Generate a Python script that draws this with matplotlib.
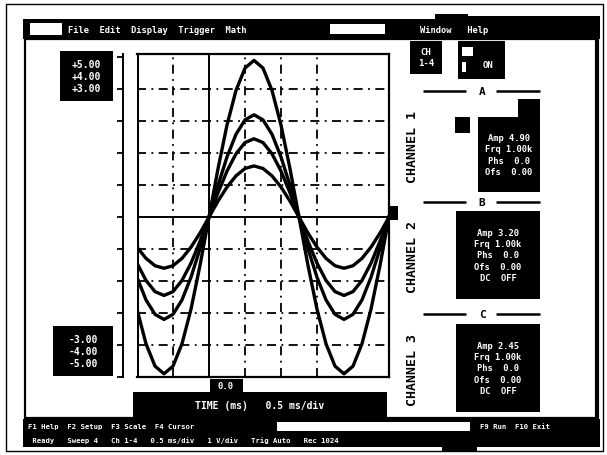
import matplotlib
matplotlib.use("Agg")
import matplotlib.pyplot as plt
from matplotlib.patches import Rectangle

# waveform samples, every quarter division
x_div = [i * 0.25 for i in range(29)]
ch1 = [-2.88, -3.96, -4.66, -4.9, -4.66, -3.96, -2.88, -1.51, 0, 1.51, 2.88, 3.96, 4.66, 4.9, 4.66,
       3.96, 2.88, 1.51, 0, -1.51, -2.88, -3.96, -4.66, -4.9, -4.66, -3.96, -2.88, -1.51, 0]
ch2 = [-1.88, -2.59, -3.04, -3.2, -3.04, -2.59, -1.88, -0.99, 0, 0.99, 1.88, 2.59, 3.04, 3.2, 3.04,
       2.59, 1.88, 0.99, 0, -0.99, -1.88, -2.59, -3.04, -3.2, -3.04, -2.59, -1.88, -0.99, 0]
ch3 = [-1.44, -1.98, -2.33, -2.45, -2.33, -1.98, -1.44, -0.76, 0, 0.76, 1.44, 1.98, 2.33, 2.45, 2.33,
       1.98, 1.44, 0.76, 0, -0.76, -1.44, -1.98, -2.33, -2.45, -2.33, -1.98, -1.44, -0.76, 0]
ch4 = [-0.94, -1.29, -1.52, -1.6, -1.52, -1.29, -0.94, -0.5, 0, 0.5, 0.94, 1.29, 1.52, 1.6, 1.52,
       1.29, 0.94, 0.5, 0, -0.5, -0.94, -1.29, -1.52, -1.6, -1.52, -1.29, -0.94, -0.5, 0]

grid_x = [1, 3, 4, 5]
grid_y = [-4, -3, -2, -1, 1, 2, 3, 4]
scale_ticks = [-5, -4, -3, -2, -1, 0, 1, 2, 3, 4, 5]
trigger_x = 2

top_labels = "+5.00\n+4.00\n+3.00"
bottom_labels = "-3.00\n-4.00\n-5.00"
menu_left = "File  Edit  Display  Trigger  Math"
menu_right = "Window   Help"
channel_names = ["CHANNEL 1", "CHANNEL 2", "CHANNEL 3"]
channel_info = [
    "Amp 4.90\nFrq 1.00k\nPhs  0.0\nOfs  0.00",
    "Amp 3.20\nFrq 1.00k\nPhs  0.0\nOfs  0.00\nDC  OFF",
    "Amp 2.45\nFrq 1.00k\nPhs  0.0\nOfs  0.00\nDC  OFF",
]
status_1 = "F1 Help  F2 Setup  F3 Scale  F4 Cursor"
status_1b = "F9 Run  F10 Exit"
status_2 = " Ready   Sweep 4   Ch 1-4   0.5 ms/div   1 V/div   Trig Auto   Rec 1024"

MONO = "DejaVu Sans Mono"

fig = plt.figure(figsize=(6.07, 4.56), dpi=100)

# screen chrome drawn in pixel coordinates
bg = fig.add_axes([0, 0, 1, 1], zorder=0)
bg.set_xlim(0, 607)
bg.set_ylim(456, 0)
bg.axis("off")


def box(x0, y0, x1, y1, fc="black", ec="none", lw=0):
    bg.add_patch(Rectangle((x0, y0), x1 - x0, y1 - y0, facecolor=fc, edgecolor=ec, linewidth=lw))


def hline(x0, x1, y, lw=1.8):
    bg.plot([x0, x1], [y, y], color="black", lw=lw, solid_capstyle="butt")


# outer frame and window
box(6, 5, 603, 452, fc="white", ec="black", lw=1.0)
box(25, 40, 597, 419, fc="white", ec="black", lw=1.6)
bg.plot([597, 597], [40, 419], color="black", lw=3)

# title / menu bar
box(23, 20, 600, 40)
box(435, 15, 468, 20)
box(468, 17, 600, 20)
box(30, 24, 62, 36, fc="white")
box(330, 25, 385, 35, fc="white")
bg.text(68, 30.5, menu_left, color="white", fontsize=6.3, family=MONO,
        fontweight="bold", va="center", ha="left")
bg.text(420, 30.5, menu_right, color="white", fontsize=6.3, family=MONO,
        fontweight="bold", va="center", ha="left")

# left scale label blocks
box(60, 52, 113, 102)
bg.text(86, 77, top_labels, color="white", fontsize=7, family=MONO, fontweight="bold",
        ha="center", va="center", linespacing=1.25)
box(53, 327, 113, 377)
bg.text(83, 352, bottom_labels, color="white", fontsize=7, family=MONO, fontweight="bold",
        ha="center", va="center", linespacing=1.25)

# right panel top boxes
box(410, 42, 442, 75)
bg.text(426, 58, "CH\n1-4", color="white", fontsize=6.5, family=MONO, fontweight="bold",
        ha="center", va="center")
box(458, 42, 505, 80)
box(462, 48, 473, 57, fc="white")
box(462, 63, 466, 73, fc="white")
bg.text(488, 65, "ON", color="white", fontsize=6.5, family=MONO, fontweight="bold",
        ha="center", va="center")

# channel sections: separator y, text column centre, block top, block bottom
sections = [(92, 147, 118, 193), (203, 257, 212, 300), (315, 370, 325, 413)]
for (sep_y, col_y, blk_top, blk_bot), name, info, tag in zip(sections, channel_names,
                                                             channel_info, "ABC"):
    hline(423, 466, sep_y)
    hline(496, 540, sep_y)
    bg.text(482, sep_y, tag, color="black", fontsize=8, family=MONO, fontweight="bold",
            ha="center", va="center")
    bg.text(413, col_y, name, color="black", fontsize=9.5, family=MONO,
            fontweight="bold", rotation=90, ha="center", va="center")
    x0 = 478 if tag == "A" else 456
    box(x0, blk_top, 540, blk_bot)
    bg.text((x0 + 540) / 2, (blk_top + blk_bot) / 2, info, color="white", fontsize=6.3,
            family=MONO, fontweight="bold", ha="center", va="center", linespacing=1.3)
box(518, 100, 540, 118)
box(455, 118, 470, 134)

# markers beside the plot
box(390, 207, 398, 221)
box(258, 216, 275, 221)

# x label block under the plot
box(133, 393, 387, 421)
box(210, 380, 243, 394)
bg.text(226, 387, "0.0", color="white", fontsize=6.5, family=MONO, fontweight="bold",
        ha="center", va="center")
bg.text(260, 406, "TIME (ms)   0.5 ms/div", color="white", fontsize=7, family=MONO,
        fontweight="bold", ha="center", va="center")

# status bar
box(23, 420, 600, 448)
box(442, 446, 477, 452)
box(277, 423, 470, 432, fc="white")
bg.text(28, 427.5, status_1, color="white", fontsize=5.2, family=MONO, fontweight="bold",
        va="center", ha="left")
bg.text(480, 427.5, status_1b, color="white", fontsize=5.2, family=MONO, fontweight="bold",
        va="center", ha="left")
bg.text(28, 441, status_2, color="white", fontsize=5.2, family=MONO, fontweight="bold",
        va="center", ha="left")

# main scope plot
ax = fig.add_axes([137 / 607, (456 - 378) / 456, 252 / 607, 323 / 456], zorder=1)
ax.set_xlim(0, 7)
ax.set_ylim(-5, 5.1)

for gx in grid_x:
    ax.axvline(gx, color="black", lw=1.3, dashes=(5, 3, 1, 3), zorder=1)
for gy in grid_y:
    ax.axhline(gy, color="black", lw=1.3, dashes=(5, 3, 1, 3), zorder=1)
ax.axhline(0, color="black", lw=1.4, zorder=2)
ax.axvline(trigger_x, color="black", lw=1.4, zorder=2)
ax.axvline(0, color="black", lw=2.2, zorder=3)

for ys in (ch1, ch2, ch3, ch4):
    ax.plot(x_div, ys, color="black", lw=2.4, zorder=4)

for side in ("top", "right", "bottom"):
    ax.spines[side].set_linewidth(1.6)
ax.spines["left"].set_position(("outward", 10))
ax.spines["left"].set_linewidth(1.4)
ax.set_yticks(scale_ticks)
ax.set_yticklabels([])
ax.tick_params(axis="y", direction="out", length=4.5, width=1.3, color="black")
ax.set_xticks([])

fig.savefig("out.png", dpi=100)
